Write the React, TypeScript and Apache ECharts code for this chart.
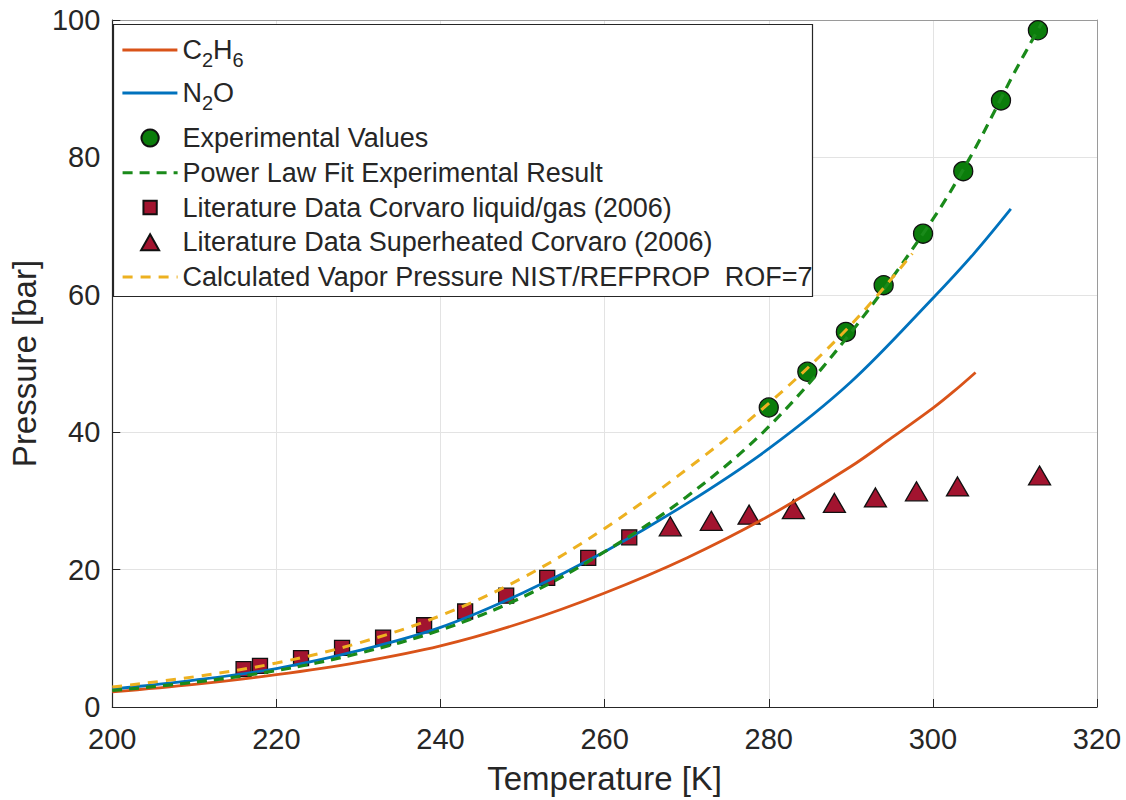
import React, { useEffect, useRef } from "react";
import * as echarts from "echarts";

// ---- data ----
const X_MIN = 200;
const X_MAX = 320;
const X_STEP = 20;
const Y_MIN = 0;
const Y_MAX = 100;
const Y_STEP = 20;

const C2H6_T = [200, 210, 220, 230, 240, 250, 260, 270, 280, 290, 295, 300, 302.5, 305.2];
const C2H6_P = [2.2, 3.3, 4.7, 6.5, 8.9, 12.3, 16.6, 21.7, 27.8, 35.0, 39.2, 43.5, 45.9, 48.7];

const N2O_T = [200, 210, 220, 230, 240, 250, 260, 270, 280, 290, 300, 305, 309.5];
const N2O_P = [2.6, 3.9, 5.6, 8.2, 11.6, 16.6, 22.6, 29.6, 37.6, 47.3, 59.5, 66.0, 72.5];

const EXP_T = [280, 284.7, 289.4, 294, 298.8, 303.7, 308.3, 312.8];
const EXP_P = [43.6, 48.8, 54.6, 61.4, 68.9, 78.0, 88.3, 98.5];

const FIT_T = [200, 210, 220, 230, 240, 250, 260, 270, 280, 290, 300, 305, 310, 313.3];
const FIT_P = [2.4, 3.6, 5.3, 7.8, 11.2, 16.0, 22.6, 30.6, 40.8, 54.5, 71.0, 81.0, 92.5, 99.6];

const LIQ_T = [216, 218, 223, 228, 233, 238, 243, 248, 253, 258, 263];
const LIQ_P = [5.5, 6.0, 7.1, 8.6, 10.1, 11.9, 13.9, 16.2, 18.8, 21.7, 24.7];

const SUP_T = [268, 273, 277.6, 283, 288, 293, 298, 303, 313];
const SUP_P = [26.3, 27.1, 28.0, 28.8, 29.7, 30.5, 31.4, 32.1, 33.7];

const NIST_T = [200, 210, 220, 230, 240, 250, 260, 270, 280, 290, 297.5];
const NIST_P = [2.9, 4.4, 6.4, 9.3, 13.3, 18.8, 26.0, 34.6, 44.2, 55.6, 66.0];

const NAMES = {
  c2h6: "C2H6",
  n2o: "N2O",
  exp: "Experimental Values",
  fit: "Power Law Fit Experimental Result",
  liq: "Literature Data Corvaro liquid/gas (2006)",
  sup: "Literature Data Superheated Corvaro (2006)",
  nist: "Calculated Vapor Pressure NIST/REFPROP  ROF=7",
};

const X_TITLE = "Temperature [K]";
const Y_TITLE = "Pressure [bar]";

const pairs = (xs: number[], ys: number[]) => xs.map((x, i) => [x, ys[i]]);

const FONT = "'Liberation Sans', Arial, Helvetica, sans-serif";
const TXT = "#262626";

// legend icons (outer moves fix the icon box so the mark keeps its own size)
const ICON_CIRCLE =
  "path://M0 0M20 20M10 1A9 9 0 1 1 9.99 1Z";
const ICON_SQUARE = "path://M0 0M20 20M3 3H17V17H3Z";
const ICON_TRIANGLE = "path://M0 0M20 20M10 1.5L19.5 18.5H0.5Z";

export default function App() {
  const ref = useRef<HTMLDivElement>(null);

  useEffect(() => {
    if (!ref.current) return;
    const chart = echarts.init(ref.current, undefined, { renderer: "svg" });

    const lineSeries = (name: string, xs: number[], ys: number[], color: string, width: number, type: any) => ({
      name,
      type: "line",
      data: pairs(xs, ys),
      symbol: "none",
      showSymbol: false,
      smooth: 0.35,
      itemStyle: { color },
      lineStyle: { color, width, type },
      emphasis: { disabled: true },
    });

    const scatterSeries = (name: string, xs: number[], ys: number[], symbol: string, size: any, color: string) => ({
      name,
      type: "scatter",
      data: pairs(xs, ys),
      symbol,
      symbolSize: size,
      symbolKeepAspect: true,
      itemStyle: { color, borderColor: "#111", borderWidth: 1.3, opacity: 1 },
      emphasis: { disabled: true },
    });

    const legendText = {
      fontFamily: FONT,
      fontSize: 27,
      color: TXT,
      lineHeight: 27,
    };

    const hideSym = { itemStyle: { opacity: 0 } };

    const option: any = {
      animation: false,
      backgroundColor: "#ffffff",
      textStyle: { fontFamily: FONT, color: TXT },
      grid: { left: 112, right: 29, top: 20, bottom: 88, containLabel: false },
      xAxis: [
        {
          type: "value",
          min: X_MIN,
          max: X_MAX,
          interval: X_STEP,
          name: X_TITLE,
          nameLocation: "middle",
          nameGap: 55,
          nameTextStyle: { fontSize: 33, color: TXT, fontFamily: FONT },
          axisLine: { show: true, onZero: false, lineStyle: { color: TXT, width: 1.2 } },
          axisTick: { show: true, inside: true, length: 8, lineStyle: { color: TXT } },
          axisLabel: { fontSize: 29, color: TXT, margin: 17, fontFamily: FONT },
          splitLine: { show: true, lineStyle: { color: "#e3e3e3", width: 1 } },
        },
        {
          type: "value",
          position: "top",
          min: X_MIN,
          max: X_MAX,
          interval: X_STEP,
          axisLine: { show: true, onZero: false, lineStyle: { color: "#9a9a9a", width: 1 } },
          axisTick: { show: false },
          axisLabel: { show: false },
          splitLine: { show: false },
        },
      ],
      yAxis: [
        {
          type: "value",
          min: Y_MIN,
          max: Y_MAX,
          interval: Y_STEP,
          name: Y_TITLE,
          nameLocation: "middle",
          nameGap: 64,
          nameRotate: 90,
          nameTextStyle: { fontSize: 33, color: TXT, fontFamily: FONT },
          axisLine: { show: true, onZero: false, lineStyle: { color: TXT, width: 1.2 } },
          axisTick: { show: true, inside: true, length: 8, lineStyle: { color: TXT } },
          axisLabel: { fontSize: 29, color: TXT, margin: 12, fontFamily: FONT },
          splitLine: { show: true, lineStyle: { color: "#e3e3e3", width: 1 } },
        },
        {
          type: "value",
          position: "right",
          min: Y_MIN,
          max: Y_MAX,
          interval: Y_STEP,
          axisLine: { show: true, onZero: false, lineStyle: { color: "#9a9a9a", width: 1 } },
          axisTick: { show: false },
          axisLabel: { show: false },
          splitLine: { show: false },
        },
      ],
      graphic: [
        {
          type: "rect",
          z: 3,
          silent: true,
          shape: { x: 113.5, y: 24.5, width: 699, height: 272 },
          style: { fill: "#ffffff", stroke: TXT, lineWidth: 1.2 },
        },
      ],
      legend: [
        {
          data: [
            { name: NAMES.c2h6, ...hideSym },
            { name: NAMES.n2o, ...hideSym },
          ],
          orient: "vertical",
          left: 121,
          top: 30,
          padding: 0,
          itemGap: 3,
          itemWidth: 55,
          itemHeight: 19,
          selectedMode: false,
          z: 5,
          lineStyle: { width: "inherit" },
          formatter: (name: string) =>
            name === NAMES.c2h6 ? "{m|C}{s|2}{m|H}{s|6}" : "{m|N}{s|2}{m|O}",
          textStyle: {
            ...legendText,
            rich: {
              m: { fontFamily: FONT, fontSize: 27, color: TXT, lineHeight: 40, verticalAlign: "middle" },
              s: { fontFamily: FONT, fontSize: 20, color: TXT, lineHeight: 27, verticalAlign: "bottom" },
            },
          },
        },
        {
          data: [
            { name: NAMES.exp, icon: ICON_CIRCLE },
            { name: NAMES.fit, ...hideSym },
            { name: NAMES.liq, icon: ICON_SQUARE },
            { name: NAMES.sup, icon: ICON_TRIANGLE },
            { name: NAMES.nist, ...hideSym },
          ],
          orient: "vertical",
          left: 121,
          top: 124.5,
          padding: 0,
          itemGap: 7.75,
          itemWidth: 55,
          itemHeight: 19,
          selectedMode: false,
          symbolKeepAspect: true,
          z: 5,
          lineStyle: { width: "inherit" },
          textStyle: legendText,
        },
      ],
      series: [
        lineSeries(NAMES.c2h6, C2H6_T, C2H6_P, "#D95319", 2.8, "solid"),
        lineSeries(NAMES.n2o, N2O_T, N2O_P, "#0072BD", 2.8, "solid"),
        scatterSeries(NAMES.exp, EXP_T, EXP_P, "circle", 19, "#0b7d0b"),
        lineSeries(NAMES.fit, FIT_T, FIT_P, "#1a8a1a", 3.2, [10, 7]),
        scatterSeries(NAMES.liq, LIQ_T, LIQ_P, "rect", 15, "#A2142F"),
        scatterSeries(NAMES.sup, SUP_T, SUP_P, "triangle", [22, 19], "#A2142F"),
        lineSeries(NAMES.nist, NIST_T, NIST_P, "#EDB120", 3, [10, 8]),
      ],
    };

    chart.setOption(option);
    return () => chart.dispose();
  }, []);

  return (
    <div
      ref={ref}
      style={{ position: "absolute", left: 0, top: 0, width: 1126, height: 800, background: "#fff" }}
    />
  );
}
